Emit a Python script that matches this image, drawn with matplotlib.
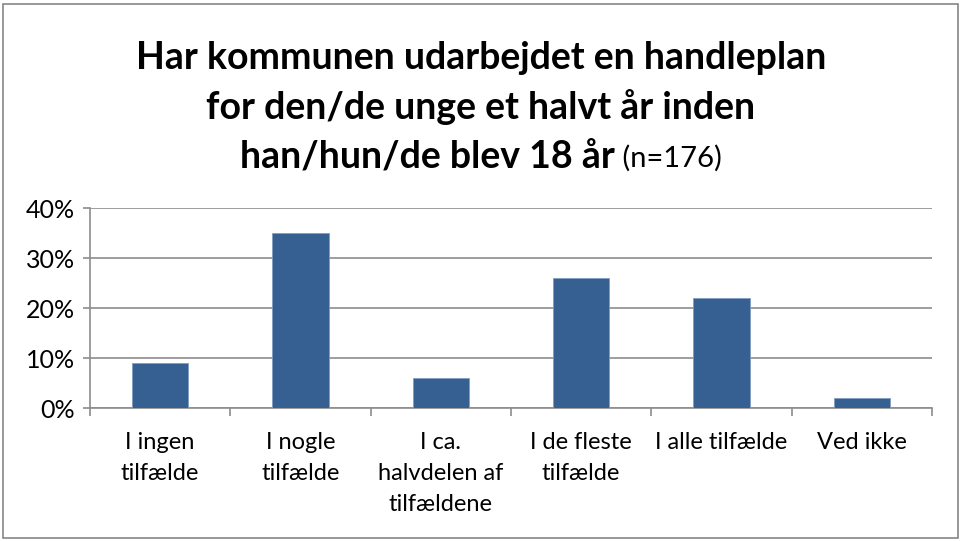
import matplotlib
matplotlib.use('Agg')
import matplotlib.pyplot as plt
from matplotlib.patches import Rectangle

plt.rcParams['font.family'] = ['Lato', 'DejaVu Sans']

categories = ['I ingen\ntilfælde', 'I nogle\ntilfælde', 'I ca.\nhalvdelen af\ntilfældene',
              'I de fleste\ntilfælde', 'I alle tilfælde', 'Ved ikke']
values = [9, 35, 6, 26, 22, 2]
yticks = [0, 10, 20, 30, 40]
title_lines = ['Har kommunen udarbejdet en handleplan',
               'for den/de unge et halvt år inden',
               'han/hun/de blev 18 år']
title_note = ' (n=176)'

W, H = 962, 541
fig = plt.figure(figsize=(W / 100, H / 100), dpi=100)
fig.patches.append(Rectangle((3 / W, 3 / H), 1 - 7 / W, 1 - 7 / H, transform=fig.transFigure,
                             fill=False, edgecolor='#868686', linewidth=1.2))

ax = fig.add_axes([90 / W, 1 - 408 / H, (932 - 90) / W, 200 / H])
x = range(len(values))
ax.bar(x, values, width=0.4, color='#376092', edgecolor='#7f9cc0', linewidth=0.6, zorder=3)
ax.set_xlim(-0.5, len(values) - 0.5)
ax.set_ylim(0, 40)
ax.set_yticks(yticks)
ax.set_yticklabels([f'{v}%' for v in yticks], fontsize=18)
ax.yaxis.grid(True, color='#8c8c8c', linewidth=1.2, zorder=0)
ax.set_xticks([i + 0.5 for i in range(-1, len(values))])
ax.set_xticklabels([])
ax.set_xticks(list(x), minor=True)
ax.set_xticklabels(categories, minor=True, fontsize=17, linespacing=1.6, va='top')
ax.tick_params(axis='x', which='minor', length=0, pad=17)
ax.tick_params(axis='x', which='major', length=6, color='#8c8c8c', width=1.2)
ax.tick_params(axis='y', length=5, color='#8c8c8c', width=1.2, pad=6)
for s in ['top', 'right']:
    ax.spines[s].set_visible(False)
for s in ['left', 'bottom']:
    ax.spines[s].set_color('#8c8c8c')
    ax.spines[s].set_linewidth(1.2)

# title: bold lines, last line with regular note
ys = [1 - 58 / H, 1 - 107 / H, 1 - 157 / H]
for line, y in zip(title_lines[:2], ys[:2]):
    fig.text(0.5, y, line, ha='center', va='center', fontsize=27, fontweight='bold')
fig.canvas.draw()
r = fig.canvas.get_renderer()
t1 = fig.text(0, ys[2], title_lines[2], ha='left', va='center', fontsize=27, fontweight='bold')
t2 = fig.text(0, ys[2], title_note, ha='left', va='center', fontsize=21)
w1 = t1.get_window_extent(r).width / W
w2 = t2.get_window_extent(r).width / W
x0 = 0.5 - (w1 + w2) / 2
t1.set_x(x0)
t2.set_x(x0 + w1)
t2.set_y(ys[2] - 1 / H)

fig.savefig('out.png', dpi=100)
